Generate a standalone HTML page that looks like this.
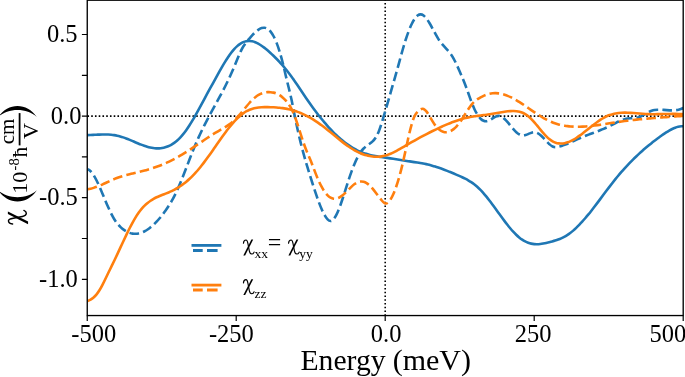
<!DOCTYPE html>
<html>
<head>
<meta charset="utf-8">
<title>chart</title>
<style>
html,body{margin:0;padding:0;background:#fff;}
body{width:685px;height:377px;overflow:hidden;}
svg{display:block;}
text{font-family:"Liberation Serif",serif;fill:#000;}
</style>
</head>
<body>
<svg width="685" height="377" viewBox="0 0 685 377">
<rect x="0" y="0" width="685" height="377" fill="#fff"/>
<defs>
<filter id="soft" x="-5%" y="-5%" width="110%" height="110%" color-interpolation-filters="sRGB"><feGaussianBlur stdDeviation="0.3"/></filter>
<clipPath id="pa"><rect x="87.25" y="0.3" width="595.95" height="315.25"/></clipPath>
</defs>
<g filter="url(#soft)">
<!-- zero lines -->
<g stroke="#000" stroke-width="1.6" stroke-dasharray="1.6 2.15" fill="none">
<line x1="87.45" y1="116.1" x2="683.2" y2="116.1"/>
<line x1="385.2" y1="315.85" x2="385.2" y2="0.3"/>
</g>
<!-- curves -->
<g clip-path="url(#pa)" fill="none" stroke-width="2.6" stroke-linejoin="round">
<path stroke="#1f77b4" stroke-linecap="butt" d="M87.20 135.11C88.20 135.09 89.20 135.05 90.20 135.01C91.20 134.97 92.20 134.93 93.20 134.88C94.20 134.83 95.20 134.77 96.20 134.72C97.20 134.67 98.20 134.63 99.20 134.58C100.20 134.54 101.20 134.51 102.20 134.49C103.20 134.47 104.20 134.46 105.20 134.46C106.20 134.47 107.20 134.49 108.20 134.54C109.20 134.58 110.20 134.65 111.20 134.75C112.20 134.84 113.20 134.96 114.20 135.12C115.20 135.27 116.20 135.45 117.20 135.67C118.20 135.89 119.20 136.15 120.20 136.44C121.20 136.73 122.20 137.05 123.20 137.39C124.20 137.73 125.20 138.09 126.20 138.47C127.20 138.85 128.20 139.25 129.20 139.66C130.20 140.07 131.20 140.49 132.20 140.91C133.20 141.33 134.20 141.76 135.20 142.18C136.20 142.60 137.20 143.02 138.20 143.43C139.20 143.84 140.20 144.24 141.20 144.62C142.20 145.01 143.20 145.37 144.20 145.72C145.20 146.06 146.20 146.39 147.20 146.68C148.20 146.97 149.20 147.23 150.20 147.46C151.20 147.69 152.20 147.88 153.20 148.03C154.20 148.18 155.20 148.28 156.20 148.34C157.20 148.39 158.20 148.40 159.20 148.35C160.20 148.30 161.20 148.20 162.20 148.03C163.20 147.87 164.20 147.64 165.20 147.35C166.20 147.06 167.20 146.70 168.20 146.27C169.20 145.85 170.20 145.35 171.20 144.78C172.20 144.22 173.20 143.57 174.20 142.85C175.20 142.13 176.20 141.34 177.20 140.46C178.20 139.58 179.20 138.62 180.20 137.57C181.20 136.52 182.20 135.39 183.20 134.16C184.20 132.94 185.20 131.62 186.20 130.22C187.20 128.82 188.20 127.33 189.20 125.78C190.20 124.23 191.20 122.61 192.20 120.94C193.20 119.27 194.20 117.55 195.20 115.79C196.20 114.03 197.20 112.22 198.20 110.40C199.20 108.58 200.20 106.73 201.20 104.87C202.20 103.01 203.20 101.14 204.20 99.28C205.20 97.42 206.20 95.56 207.20 93.72C208.20 91.88 209.20 90.05 210.20 88.23C211.20 86.41 212.20 84.59 213.20 82.78C214.20 80.96 215.20 79.15 216.20 77.34C217.20 75.52 218.20 73.72 219.20 71.93C220.20 70.15 221.20 68.39 222.20 66.67C223.20 64.95 224.20 63.27 225.20 61.65C226.20 60.02 227.20 58.46 228.20 56.97C229.20 55.49 230.20 54.08 231.20 52.76C232.20 51.44 233.20 50.22 234.20 49.10C235.20 47.99 236.20 46.99 237.20 46.11C238.20 45.23 239.20 44.46 240.20 43.81C241.20 43.15 242.20 42.61 243.20 42.18C244.20 41.75 245.20 41.43 246.20 41.23C247.20 41.02 248.20 40.92 249.20 40.93C250.20 40.95 251.20 41.07 252.20 41.28C253.20 41.50 254.20 41.81 255.20 42.21C256.20 42.60 257.20 43.08 258.20 43.63C259.20 44.18 260.20 44.80 261.20 45.47C262.20 46.14 263.20 46.88 264.20 47.65C265.20 48.42 266.20 49.24 267.20 50.09C268.20 50.93 269.20 51.81 270.20 52.71C271.20 53.61 272.20 54.54 273.20 55.50C274.20 56.46 275.20 57.45 276.20 58.47C277.20 59.49 278.20 60.54 279.20 61.62C280.20 62.70 281.20 63.81 282.20 64.96C283.20 66.11 284.20 67.29 285.20 68.50C286.20 69.72 287.20 70.97 288.20 72.25C289.20 73.54 290.20 74.86 291.20 76.22C292.20 77.58 293.20 78.97 294.20 80.40C295.20 81.83 296.20 83.29 297.20 84.77C298.20 86.25 299.20 87.75 300.20 89.25C301.20 90.75 302.20 92.26 303.20 93.75C304.20 95.25 305.20 96.74 306.20 98.21C307.20 99.67 308.20 101.12 309.20 102.54C310.20 103.97 311.20 105.37 312.20 106.75C313.20 108.13 314.20 109.49 315.20 110.82C316.20 112.16 317.20 113.47 318.20 114.76C319.20 116.04 320.20 117.30 321.20 118.54C322.20 119.77 323.20 120.98 324.20 122.17C325.20 123.35 326.20 124.51 327.20 125.63C328.20 126.76 329.20 127.86 330.20 128.93C331.20 130.00 332.20 131.04 333.20 132.06C334.20 133.07 335.20 134.05 336.20 135.00C337.20 135.95 338.20 136.87 339.20 137.76C340.20 138.65 341.20 139.50 342.20 140.33C343.20 141.16 344.20 141.95 345.20 142.71C346.20 143.48 347.20 144.21 348.20 144.90C349.20 145.60 350.20 146.27 351.20 146.90C352.20 147.53 353.20 148.13 354.20 148.69C355.20 149.26 356.20 149.79 357.20 150.29C358.20 150.78 359.20 151.25 360.20 151.68C361.20 152.10 362.20 152.50 363.20 152.86C364.20 153.22 365.20 153.55 366.20 153.86C367.20 154.16 368.20 154.44 369.20 154.70C370.20 154.95 371.20 155.19 372.20 155.41C373.20 155.62 374.20 155.82 375.20 156.01C376.20 156.19 377.20 156.37 378.20 156.53C379.20 156.70 380.20 156.85 381.20 157.01C382.20 157.16 383.20 157.31 384.20 157.46C385.20 157.61 386.20 157.76 387.20 157.91C388.20 158.06 389.20 158.21 390.20 158.37C391.20 158.52 392.20 158.67 393.20 158.83C394.20 158.99 395.20 159.14 396.20 159.30C397.20 159.46 398.20 159.61 399.20 159.77C400.20 159.93 401.20 160.09 402.20 160.24C403.20 160.40 404.20 160.56 405.20 160.71C406.20 160.87 407.20 161.02 408.20 161.18C409.20 161.33 410.20 161.49 411.20 161.64C412.20 161.79 413.20 161.94 414.20 162.09C415.20 162.24 416.20 162.39 417.20 162.54C418.20 162.69 419.20 162.84 420.20 163.01C421.20 163.17 422.20 163.34 423.20 163.53C424.20 163.71 425.20 163.92 426.20 164.14C427.20 164.36 428.20 164.59 429.20 164.85C430.20 165.10 431.20 165.37 432.20 165.66C433.20 165.94 434.20 166.24 435.20 166.55C436.20 166.86 437.20 167.19 438.20 167.52C439.20 167.86 440.20 168.21 441.20 168.57C442.20 168.93 443.20 169.30 444.20 169.68C445.20 170.06 446.20 170.45 447.20 170.85C448.20 171.25 449.20 171.65 450.20 172.07C451.20 172.48 452.20 172.90 453.20 173.32C454.20 173.75 455.20 174.18 456.20 174.61C457.20 175.05 458.20 175.49 459.20 175.93C460.20 176.37 461.20 176.81 462.20 177.27C463.20 177.72 464.20 178.19 465.20 178.69C466.20 179.19 467.20 179.71 468.20 180.28C469.20 180.85 470.20 181.46 471.20 182.13C472.20 182.80 473.20 183.53 474.20 184.31C475.20 185.10 476.20 185.94 477.20 186.84C478.20 187.74 479.20 188.69 480.20 189.70C481.20 190.71 482.20 191.78 483.20 192.90C484.20 194.02 485.20 195.20 486.20 196.42C487.20 197.63 488.20 198.90 489.20 200.19C490.20 201.48 491.20 202.81 492.20 204.16C493.20 205.50 494.20 206.87 495.20 208.25C496.20 209.63 497.20 211.01 498.20 212.40C499.20 213.78 500.20 215.17 501.20 216.54C502.20 217.91 503.20 219.27 504.20 220.60C505.20 221.94 506.20 223.25 507.20 224.53C508.20 225.80 509.20 227.04 510.20 228.24C511.20 229.44 512.20 230.58 513.20 231.68C514.20 232.77 515.20 233.80 516.20 234.77C517.20 235.74 518.20 236.63 519.20 237.45C520.20 238.27 521.20 239.01 522.20 239.67C523.20 240.33 524.20 240.91 525.20 241.42C526.20 241.93 527.20 242.36 528.20 242.73C529.20 243.09 530.20 243.39 531.20 243.61C532.20 243.84 533.20 244.00 534.20 244.10C535.20 244.20 536.20 244.24 537.20 244.22C538.20 244.20 539.20 244.12 540.20 244.00C541.20 243.89 542.20 243.73 543.20 243.54C544.20 243.35 545.20 243.14 546.20 242.91C547.20 242.68 548.20 242.44 549.20 242.20C550.20 241.95 551.20 241.70 552.20 241.43C553.20 241.15 554.20 240.87 555.20 240.56C556.20 240.24 557.20 239.91 558.20 239.54C559.20 239.17 560.20 238.77 561.20 238.32C562.20 237.88 563.20 237.40 564.20 236.87C565.20 236.34 566.20 235.75 567.20 235.12C568.20 234.48 569.20 233.78 570.20 233.03C571.20 232.28 572.20 231.47 573.20 230.62C574.20 229.76 575.20 228.86 576.20 227.91C577.20 226.96 578.20 225.96 579.20 224.93C580.20 223.89 581.20 222.82 582.20 221.71C583.20 220.60 584.20 219.45 585.20 218.28C586.20 217.11 587.20 215.91 588.20 214.68C589.20 213.45 590.20 212.20 591.20 210.93C592.20 209.66 593.20 208.37 594.20 207.07C595.20 205.76 596.20 204.45 597.20 203.12C598.20 201.79 599.20 200.46 600.20 199.12C601.20 197.78 602.20 196.44 603.20 195.09C604.20 193.75 605.20 192.41 606.20 191.08C607.20 189.74 608.20 188.42 609.20 187.10C610.20 185.78 611.20 184.48 612.20 183.19C613.20 181.91 614.20 180.64 615.20 179.39C616.20 178.14 617.20 176.91 618.20 175.71C619.20 174.51 620.20 173.33 621.20 172.18C622.20 171.02 623.20 169.89 624.20 168.78C625.20 167.67 626.20 166.59 627.20 165.52C628.20 164.45 629.20 163.41 630.20 162.38C631.20 161.36 632.20 160.35 633.20 159.36C634.20 158.37 635.20 157.41 636.20 156.46C637.20 155.50 638.20 154.57 639.20 153.66C640.20 152.74 641.20 151.84 642.20 150.96C643.20 150.07 644.20 149.20 645.20 148.35C646.20 147.50 647.20 146.66 648.20 145.83C649.20 145.01 650.20 144.20 651.20 143.40C652.20 142.60 653.20 141.81 654.20 141.04C655.20 140.26 656.20 139.50 657.20 138.75C658.20 138.00 659.20 137.25 660.20 136.52C661.20 135.79 662.20 135.08 663.20 134.38C664.20 133.69 665.20 133.02 666.20 132.38C667.20 131.74 668.20 131.14 669.20 130.57C670.20 130.01 671.20 129.48 672.20 129.01C673.20 128.54 674.20 128.11 675.20 127.75C676.20 127.38 677.20 127.07 678.20 126.84C679.20 126.60 680.20 126.43 681.20 126.33C681.90 126.27 682.60 126.24 683.30 126.25"/>
<path stroke="#1f77b4" stroke-dasharray="9.6 4.2" stroke-dashoffset="4.7" d="M87.60 169.30C88.60 169.57 89.60 170.24 90.60 171.23C91.60 172.22 92.60 173.54 93.60 175.11C94.60 176.67 95.60 178.49 96.60 180.48C97.60 182.47 98.60 184.64 99.60 186.90C100.60 189.17 101.60 191.54 102.60 193.94C103.60 196.34 104.60 198.76 105.60 201.14C106.60 203.52 107.60 205.85 108.60 208.08C109.60 210.31 110.60 212.43 111.60 214.40C112.60 216.36 113.60 218.17 114.60 219.75C115.60 221.34 116.60 222.71 117.60 223.92C118.60 225.14 119.60 226.19 120.60 227.13C121.60 228.08 122.60 228.92 123.60 229.66C124.60 230.39 125.60 231.03 126.60 231.56C127.60 232.09 128.60 232.53 129.60 232.86C130.60 233.20 131.60 233.44 132.60 233.59C133.60 233.75 134.60 233.80 135.60 233.78C136.60 233.75 137.60 233.63 138.60 233.43C139.60 233.23 140.60 232.95 141.60 232.58C142.60 232.22 143.60 231.78 144.60 231.26C145.60 230.74 146.60 230.14 147.60 229.47C148.60 228.81 149.60 228.07 150.60 227.26C151.60 226.45 152.60 225.58 153.60 224.64C154.60 223.70 155.60 222.69 156.60 221.63C157.60 220.56 158.60 219.44 159.60 218.26C160.60 217.08 161.60 215.84 162.60 214.55C163.60 213.26 164.60 211.92 165.60 210.51C166.60 209.10 167.60 207.62 168.60 206.06C169.60 204.50 170.60 202.86 171.60 201.11C172.60 199.36 173.60 197.51 174.60 195.54C175.60 193.57 176.60 191.48 177.60 189.27C178.60 187.05 179.60 184.71 180.60 182.30C181.60 179.88 182.60 177.38 183.60 174.83C184.60 172.28 185.60 169.68 186.60 167.08C187.60 164.47 188.60 161.85 189.60 159.25C190.60 156.65 191.60 154.08 192.60 151.56C193.60 149.04 194.60 146.58 195.60 144.22C196.60 141.85 197.60 139.57 198.60 137.36C199.60 135.15 200.60 133.02 201.60 130.94C202.60 128.86 203.60 126.84 204.60 124.87C205.60 122.89 206.60 120.96 207.60 119.07C208.60 117.17 209.60 115.30 210.60 113.46C211.60 111.61 212.60 109.78 213.60 107.96C214.60 106.13 215.60 104.32 216.60 102.49C217.60 100.66 218.60 98.83 219.60 96.97C220.60 95.12 221.60 93.24 222.60 91.32C223.60 89.41 224.60 87.46 225.60 85.47C226.60 83.47 227.60 81.42 228.60 79.32C229.60 77.21 230.60 75.04 231.60 72.80C232.60 70.56 233.60 68.25 234.60 65.85C235.60 63.45 236.60 60.95 237.60 58.52C238.60 56.09 239.60 53.72 240.60 51.60C241.60 49.47 242.60 47.63 243.60 46.04C244.60 44.45 245.60 43.09 246.60 41.83C247.60 40.58 248.60 39.44 249.60 38.29C250.60 37.15 251.60 36.02 252.60 34.95C253.60 33.88 254.60 32.87 255.60 31.96C256.60 31.05 257.60 30.24 258.60 29.58C259.60 28.92 260.60 28.41 261.60 28.09C262.60 27.77 263.60 27.64 264.60 27.75C265.60 27.86 266.60 28.20 267.60 28.83C268.60 29.45 269.60 30.36 270.60 31.59C271.60 32.82 272.60 34.37 273.60 36.25C274.60 38.13 275.60 40.34 276.60 42.89C277.60 45.44 278.60 48.32 279.60 51.56C280.60 54.79 281.60 58.37 282.60 62.30C283.60 66.23 284.60 70.62 285.60 74.94C286.60 79.27 287.60 83.30 288.60 87.26C289.60 91.22 290.60 95.28 291.60 100.08C292.60 104.88 293.60 110.26 294.60 115.31C295.60 120.35 296.60 125.09 297.60 129.58C298.60 134.07 299.60 138.30 300.60 142.33C301.60 146.36 302.60 150.18 303.60 153.84C304.60 157.50 305.60 161.00 306.60 164.39C307.60 167.78 308.60 171.05 309.60 174.26C310.60 177.47 311.60 180.62 312.60 183.75C313.60 186.87 314.60 189.96 315.60 192.94C316.60 195.93 317.60 198.81 318.60 201.52C319.60 204.23 320.60 206.77 321.60 209.07C322.60 211.37 323.60 213.43 324.60 215.19C325.60 216.94 326.60 218.41 327.60 219.43C328.60 220.46 329.60 221.04 330.60 221.01C331.60 220.99 332.60 220.35 333.60 219.20C334.60 218.06 335.60 216.41 336.60 214.40C337.60 212.38 338.60 209.98 339.60 207.33C340.60 204.69 341.60 201.79 342.60 198.76C343.60 195.73 344.60 192.57 345.60 189.41C346.60 186.25 347.60 183.09 348.60 180.04C349.60 176.99 350.60 174.08 351.60 171.35C352.60 168.61 353.60 166.06 354.60 163.70C355.60 161.34 356.60 159.19 357.60 157.26C358.60 155.33 359.60 153.63 360.60 152.19C361.60 150.74 362.60 149.54 363.60 148.52C364.60 147.49 365.60 146.63 366.60 145.87C367.60 145.11 368.60 144.46 369.60 143.76C370.60 143.07 371.60 142.33 372.60 141.37C373.60 140.42 374.60 139.26 375.60 137.72C376.60 136.19 377.60 134.30 378.60 131.91C379.60 129.51 380.60 126.54 381.60 123.32C382.60 120.10 383.60 116.68 384.60 113.34C385.60 110.01 386.60 106.68 387.60 103.22C388.60 99.76 389.60 96.18 390.60 92.68C391.60 89.17 392.60 85.70 393.60 82.21C394.60 78.72 395.60 75.22 396.60 71.66C397.60 68.11 398.60 64.48 399.60 60.83C400.60 57.17 401.60 53.51 402.60 49.99C403.60 46.48 404.60 43.13 405.60 40.01C406.60 36.89 407.60 34.00 408.60 31.37C409.60 28.73 410.60 26.36 411.60 24.28C412.60 22.20 413.60 20.41 414.60 18.95C415.60 17.49 416.60 16.36 417.60 15.59C418.60 14.83 419.60 14.42 420.60 14.41C421.60 14.41 422.60 14.82 423.60 15.56C424.60 16.31 425.60 17.39 426.60 18.70C427.60 20.01 428.60 21.56 429.60 23.25C430.60 24.93 431.60 26.75 432.60 28.61C433.60 30.48 434.60 32.38 435.60 34.20C436.60 36.03 437.60 37.78 438.60 39.34C439.60 40.90 440.60 42.26 441.60 43.49C442.60 44.72 443.60 45.82 444.60 46.91C445.60 47.99 446.60 49.05 447.60 50.18C448.60 51.30 449.60 52.50 450.60 53.87C451.60 55.23 452.60 56.77 453.60 58.56C454.60 60.35 455.60 62.38 456.60 64.53C457.60 66.69 458.60 68.95 459.60 71.23C460.60 73.52 461.60 75.85 462.60 78.25C463.60 80.66 464.60 83.15 465.60 85.75C466.60 88.36 467.60 91.10 468.60 93.95C469.60 96.79 470.60 99.68 471.60 102.32C472.60 104.97 473.60 107.35 474.60 109.45C475.60 111.55 476.60 113.37 477.60 114.91C478.60 116.45 479.60 117.72 480.60 118.70C481.60 119.68 482.60 120.38 483.60 120.80C484.60 121.22 485.60 121.36 486.60 121.22C487.60 121.08 488.60 120.67 489.60 120.13C490.60 119.60 491.60 118.94 492.60 118.30C493.60 117.66 494.60 117.04 495.60 116.58C496.60 116.12 497.60 115.82 498.60 115.83C499.60 115.84 500.60 116.16 501.60 116.72C502.60 117.28 503.60 118.07 504.60 119.02C505.60 119.96 506.60 121.05 507.60 122.20C508.60 123.36 509.60 124.58 510.60 125.80C511.60 127.02 512.60 128.23 513.60 129.36C514.60 130.48 515.60 131.53 516.60 132.42C517.60 133.30 518.60 134.03 519.60 134.53C520.60 135.03 521.60 135.30 522.60 135.37C523.60 135.43 524.60 135.27 525.60 134.97C526.60 134.68 527.60 134.25 528.60 133.82C529.60 133.40 530.60 132.96 531.60 132.65C532.60 132.33 533.60 132.13 534.60 132.17C535.60 132.21 536.60 132.52 537.60 133.05C538.60 133.57 539.60 134.31 540.60 135.19C541.60 136.07 542.60 137.09 543.60 138.16C544.60 139.24 545.60 140.35 546.60 141.42C547.60 142.49 548.60 143.52 549.60 144.39C550.60 145.27 551.60 146.00 552.60 146.49C553.60 146.98 554.60 147.20 555.60 147.17C556.60 147.15 557.60 146.93 558.60 146.70C559.60 146.47 560.60 146.20 561.60 145.89C562.60 145.58 563.60 145.24 564.60 144.87C565.60 144.50 566.60 144.11 567.60 143.69C568.60 143.28 569.60 142.84 570.60 142.40C571.60 141.95 572.60 141.49 573.60 141.03C574.60 140.57 575.60 140.11 576.60 139.65C577.60 139.19 578.60 138.74 579.60 138.30C580.60 137.86 581.60 137.43 582.60 137.01C583.60 136.60 584.60 136.20 585.60 135.80C586.60 135.41 587.60 135.02 588.60 134.64C589.60 134.26 590.60 133.89 591.60 133.51C592.60 133.14 593.60 132.76 594.60 132.39C595.60 132.01 596.60 131.63 597.60 131.25C598.60 130.87 599.60 130.47 600.60 130.08C601.60 129.68 602.60 129.27 603.60 128.84C604.60 128.42 605.60 127.98 606.60 127.53C607.60 127.08 608.60 126.61 609.60 126.12C610.60 125.63 611.60 125.11 612.60 124.59C613.60 124.08 614.60 123.55 615.60 123.04C616.60 122.53 617.60 122.02 618.60 121.55C619.60 121.08 620.60 120.63 621.60 120.23C622.60 119.83 623.60 119.48 624.60 119.19C625.60 118.90 626.60 118.67 627.60 118.52C628.60 118.37 629.60 118.30 630.60 118.25C631.60 118.20 632.60 118.18 633.60 118.12C634.60 118.06 635.60 117.97 636.60 117.80C637.60 117.62 638.60 117.36 639.60 116.97C640.60 116.58 641.60 116.10 642.60 115.56C643.60 115.03 644.60 114.44 645.60 113.86C646.60 113.28 647.60 112.70 648.60 112.17C649.60 111.65 650.60 111.17 651.60 110.81C652.60 110.44 653.60 110.18 654.60 110.01C655.60 109.83 656.60 109.74 657.60 109.70C658.60 109.65 659.60 109.67 660.60 109.71C661.60 109.75 662.60 109.81 663.60 109.89C664.60 109.97 665.60 110.05 666.60 110.13C667.60 110.21 668.60 110.28 669.60 110.33C670.60 110.38 671.60 110.41 672.60 110.40C673.60 110.39 674.60 110.33 675.60 110.23C676.60 110.12 677.60 109.95 678.60 109.72C679.60 109.48 680.60 109.17 681.60 108.77C682.17 108.54 682.73 108.29 683.30 108.00"/>
<path stroke="#ff7f0e" d="M87.60 300.97C88.60 300.68 89.60 300.26 90.60 299.68C91.60 299.11 92.60 298.39 93.60 297.50C94.60 296.61 95.60 295.56 96.60 294.32C97.60 293.08 98.60 291.66 99.60 290.04C100.60 288.42 101.60 286.59 102.60 284.62C103.60 282.65 104.60 280.57 105.60 278.47C106.60 276.38 107.60 274.30 108.60 272.26C109.60 270.23 110.60 268.22 111.60 266.19C112.60 264.17 113.60 262.12 114.60 260.03C115.60 257.94 116.60 255.80 117.60 253.65C118.60 251.50 119.60 249.33 120.60 247.16C121.60 245.00 122.60 242.83 123.60 240.68C124.60 238.54 125.60 236.42 126.60 234.34C127.60 232.26 128.60 230.22 129.60 228.25C130.60 226.28 131.60 224.37 132.60 222.54C133.60 220.72 134.60 218.98 135.60 217.34C136.60 215.71 137.60 214.18 138.60 212.77C139.60 211.36 140.60 210.07 141.60 208.89C142.60 207.71 143.60 206.63 144.60 205.64C145.60 204.65 146.60 203.76 147.60 202.94C148.60 202.12 149.60 201.38 150.60 200.70C151.60 200.02 152.60 199.41 153.60 198.84C154.60 198.28 155.60 197.77 156.60 197.29C157.60 196.81 158.60 196.37 159.60 195.95C160.60 195.53 161.60 195.14 162.60 194.75C163.60 194.36 164.60 193.99 165.60 193.60C166.60 193.22 167.60 192.83 168.60 192.43C169.60 192.02 170.60 191.60 171.60 191.14C172.60 190.69 173.60 190.20 174.60 189.67C175.60 189.14 176.60 188.57 177.60 187.96C178.60 187.35 179.60 186.70 180.60 186.02C181.60 185.33 182.60 184.60 183.60 183.83C184.60 183.07 185.60 182.26 186.60 181.41C187.60 180.56 188.60 179.67 189.60 178.74C190.60 177.81 191.60 176.84 192.60 175.82C193.60 174.81 194.60 173.75 195.60 172.66C196.60 171.56 197.60 170.42 198.60 169.23C199.60 168.05 200.60 166.82 201.60 165.55C202.60 164.29 203.60 162.99 204.60 161.65C205.60 160.32 206.60 158.96 207.60 157.58C208.60 156.20 209.60 154.79 210.60 153.38C211.60 151.96 212.60 150.53 213.60 149.10C214.60 147.67 215.60 146.23 216.60 144.80C217.60 143.37 218.60 141.94 219.60 140.52C220.60 139.10 221.60 137.70 222.60 136.32C223.60 134.93 224.60 133.57 225.60 132.23C226.60 130.90 227.60 129.59 228.60 128.32C229.60 127.05 230.60 125.82 231.60 124.63C232.60 123.44 233.60 122.30 234.60 121.21C235.60 120.12 236.60 119.09 237.60 118.11C238.60 117.14 239.60 116.22 240.60 115.38C241.60 114.54 242.60 113.77 243.60 113.07C244.60 112.38 245.60 111.76 246.60 111.21C247.60 110.67 248.60 110.19 249.60 109.78C250.60 109.37 251.60 109.02 252.60 108.72C253.60 108.42 254.60 108.17 255.60 107.97C256.60 107.77 257.60 107.61 258.60 107.49C259.60 107.37 260.60 107.28 261.60 107.22C262.60 107.16 263.60 107.13 264.60 107.12C265.60 107.10 266.60 107.10 267.60 107.12C268.60 107.13 269.60 107.15 270.60 107.18C271.60 107.21 272.60 107.25 273.60 107.30C274.60 107.35 275.60 107.41 276.60 107.49C277.60 107.57 278.60 107.66 279.60 107.77C280.60 107.87 281.60 108.00 282.60 108.14C283.60 108.28 284.60 108.44 285.60 108.62C286.60 108.80 287.60 109.00 288.60 109.22C289.60 109.44 290.60 109.68 291.60 109.95C292.60 110.22 293.60 110.51 294.60 110.83C295.60 111.15 296.60 111.49 297.60 111.86C298.60 112.23 299.60 112.62 300.60 113.04C301.60 113.46 302.60 113.91 303.60 114.38C304.60 114.85 305.60 115.34 306.60 115.86C307.60 116.37 308.60 116.91 309.60 117.48C310.60 118.04 311.60 118.63 312.60 119.23C313.60 119.84 314.60 120.47 315.60 121.12C316.60 121.78 317.60 122.45 318.60 123.14C319.60 123.84 320.60 124.55 321.60 125.29C322.60 126.02 323.60 126.78 324.60 127.55C325.60 128.33 326.60 129.12 327.60 129.92C328.60 130.72 329.60 131.54 330.60 132.36C331.60 133.18 332.60 134.00 333.60 134.83C334.60 135.65 335.60 136.48 336.60 137.30C337.60 138.12 338.60 138.93 339.60 139.74C340.60 140.54 341.60 141.33 342.60 142.11C343.60 142.88 344.60 143.64 345.60 144.38C346.60 145.11 347.60 145.83 348.60 146.51C349.60 147.20 350.60 147.85 351.60 148.48C352.60 149.10 353.60 149.70 354.60 150.26C355.60 150.82 356.60 151.35 357.60 151.85C358.60 152.34 359.60 152.80 360.60 153.23C361.60 153.66 362.60 154.05 363.60 154.40C364.60 154.75 365.60 155.06 366.60 155.34C367.60 155.62 368.60 155.85 369.60 156.05C370.60 156.25 371.60 156.40 372.60 156.52C373.60 156.63 374.60 156.70 375.60 156.73C376.60 156.76 377.60 156.74 378.60 156.68C379.60 156.62 380.60 156.51 381.60 156.36C382.60 156.20 383.60 156.00 384.60 155.75C385.60 155.50 386.60 155.20 387.60 154.86C388.60 154.52 389.60 154.14 390.60 153.72C391.60 153.30 392.60 152.84 393.60 152.36C394.60 151.88 395.60 151.37 396.60 150.84C397.60 150.31 398.60 149.76 399.60 149.19C400.60 148.63 401.60 148.05 402.60 147.47C403.60 146.88 404.60 146.29 405.60 145.70C406.60 145.12 407.60 144.53 408.60 143.95C409.60 143.37 410.60 142.79 411.60 142.22C412.60 141.65 413.60 141.09 414.60 140.53C415.60 139.97 416.60 139.41 417.60 138.86C418.60 138.31 419.60 137.77 420.60 137.23C421.60 136.69 422.60 136.16 423.60 135.63C424.60 135.10 425.60 134.58 426.60 134.06C427.60 133.54 428.60 133.03 429.60 132.53C430.60 132.02 431.60 131.52 432.60 131.03C433.60 130.54 434.60 130.05 435.60 129.57C436.60 129.09 437.60 128.62 438.60 128.15C439.60 127.68 440.60 127.22 441.60 126.77C442.60 126.31 443.60 125.87 444.60 125.43C445.60 125.00 446.60 124.57 447.60 124.15C448.60 123.74 449.60 123.33 450.60 122.94C451.60 122.54 452.60 122.16 453.60 121.79C454.60 121.42 455.60 121.06 456.60 120.72C457.60 120.38 458.60 120.05 459.60 119.74C460.60 119.43 461.60 119.13 462.60 118.85C463.60 118.57 464.60 118.30 465.60 118.06C466.60 117.81 467.60 117.58 468.60 117.38C469.60 117.17 470.60 116.98 471.60 116.80C472.60 116.63 473.60 116.47 474.60 116.32C475.60 116.17 476.60 116.04 477.60 115.90C478.60 115.77 479.60 115.64 480.60 115.52C481.60 115.39 482.60 115.27 483.60 115.14C484.60 115.02 485.60 114.89 486.60 114.75C487.60 114.61 488.60 114.46 489.60 114.31C490.60 114.15 491.60 113.98 492.60 113.80C493.60 113.62 494.60 113.43 495.60 113.25C496.60 113.06 497.60 112.87 498.60 112.69C499.60 112.50 500.60 112.32 501.60 112.16C502.60 111.99 503.60 111.83 504.60 111.69C505.60 111.55 506.60 111.43 507.60 111.33C508.60 111.23 509.60 111.15 510.60 111.11C511.60 111.06 512.60 111.04 513.60 111.06C514.60 111.08 515.60 111.15 516.60 111.27C517.60 111.39 518.60 111.57 519.60 111.82C520.60 112.07 521.60 112.39 522.60 112.81C523.60 113.22 524.60 113.73 525.60 114.34C526.60 114.95 527.60 115.67 528.60 116.51C529.60 117.35 530.60 118.30 531.60 119.32C532.60 120.35 533.60 121.46 534.60 122.62C535.60 123.77 536.60 124.97 537.60 126.19C538.60 127.40 539.60 128.63 540.60 129.84C541.60 131.05 542.60 132.24 543.60 133.37C544.60 134.51 545.60 135.59 546.60 136.59C547.60 137.59 548.60 138.50 549.60 139.30C550.60 140.09 551.60 140.76 552.60 141.32C553.60 141.88 554.60 142.32 555.60 142.66C556.60 143.00 557.60 143.24 558.60 143.38C559.60 143.52 560.60 143.57 561.60 143.53C562.60 143.49 563.60 143.37 564.60 143.17C565.60 142.97 566.60 142.69 567.60 142.35C568.60 142.01 569.60 141.60 570.60 141.14C571.60 140.67 572.60 140.15 573.60 139.58C574.60 139.01 575.60 138.40 576.60 137.74C577.60 137.09 578.60 136.40 579.60 135.67C580.60 134.95 581.60 134.20 582.60 133.44C583.60 132.67 584.60 131.88 585.60 131.08C586.60 130.29 587.60 129.48 588.60 128.68C589.60 127.87 590.60 127.07 591.60 126.27C592.60 125.48 593.60 124.69 594.60 123.93C595.60 123.16 596.60 122.42 597.60 121.70C598.60 120.99 599.60 120.30 600.60 119.65C601.60 119.00 602.60 118.39 603.60 117.83C604.60 117.27 605.60 116.76 606.60 116.30C607.60 115.85 608.60 115.44 609.60 115.08C610.60 114.73 611.60 114.42 612.60 114.15C613.60 113.89 614.60 113.66 615.60 113.47C616.60 113.29 617.60 113.14 618.60 113.02C619.60 112.90 620.60 112.82 621.60 112.76C622.60 112.70 623.60 112.67 624.60 112.67C625.60 112.66 626.60 112.67 627.60 112.70C628.60 112.73 629.60 112.78 630.60 112.84C631.60 112.90 632.60 112.97 633.60 113.05C634.60 113.13 635.60 113.21 636.60 113.30C637.60 113.39 638.60 113.48 639.60 113.56C640.60 113.65 641.60 113.73 642.60 113.81C643.60 113.88 644.60 113.95 645.60 114.00C646.60 114.05 647.60 114.09 648.60 114.12C649.60 114.15 650.60 114.17 651.60 114.18C652.60 114.20 653.60 114.20 654.60 114.20C655.60 114.19 656.60 114.18 657.60 114.17C658.60 114.16 659.60 114.14 660.60 114.12C661.60 114.10 662.60 114.08 663.60 114.06C664.60 114.03 665.60 114.01 666.60 113.99C667.60 113.97 668.60 113.95 669.60 113.94C670.60 113.92 671.60 113.91 672.60 113.90C673.60 113.90 674.60 113.90 675.60 113.91C676.60 113.92 677.60 113.93 678.60 113.96C679.60 113.98 680.60 114.02 681.60 114.07C682.17 114.09 682.73 114.13 683.30 114.16"/>
<path stroke="#ff7f0e" stroke-dasharray="9.6 4.2" d="M87.60 189.30C88.60 189.15 89.60 188.94 90.60 188.70C91.60 188.46 92.60 188.18 93.60 187.87C94.60 187.55 95.60 187.20 96.60 186.83C97.60 186.46 98.60 186.06 99.60 185.64C100.60 185.22 101.60 184.79 102.60 184.34C103.60 183.90 104.60 183.44 105.60 182.98C106.60 182.52 107.60 182.05 108.60 181.59C109.60 181.13 110.60 180.67 111.60 180.22C112.60 179.78 113.60 179.34 114.60 178.92C115.60 178.50 116.60 178.10 117.60 177.73C118.60 177.35 119.60 177.01 120.60 176.68C121.60 176.36 122.60 176.05 123.60 175.76C124.60 175.48 125.60 175.20 126.60 174.94C127.60 174.68 128.60 174.44 129.60 174.19C130.60 173.95 131.60 173.71 132.60 173.47C133.60 173.23 134.60 173.00 135.60 172.75C136.60 172.51 137.60 172.27 138.60 172.02C139.60 171.77 140.60 171.52 141.60 171.27C142.60 171.01 143.60 170.75 144.60 170.48C145.60 170.21 146.60 169.93 147.60 169.64C148.60 169.36 149.60 169.06 150.60 168.76C151.60 168.45 152.60 168.14 153.60 167.81C154.60 167.48 155.60 167.14 156.60 166.79C157.60 166.44 158.60 166.07 159.60 165.69C160.60 165.31 161.60 164.92 162.60 164.51C163.60 164.09 164.60 163.66 165.60 163.22C166.60 162.77 167.60 162.31 168.60 161.83C169.60 161.35 170.60 160.86 171.60 160.35C172.60 159.84 173.60 159.32 174.60 158.78C175.60 158.24 176.60 157.69 177.60 157.13C178.60 156.57 179.60 155.99 180.60 155.40C181.60 154.82 182.60 154.22 183.60 153.61C184.60 153.00 185.60 152.38 186.60 151.76C187.60 151.13 188.60 150.49 189.60 149.85C190.60 149.20 191.60 148.55 192.60 147.89C193.60 147.23 194.60 146.56 195.60 145.89C196.60 145.22 197.60 144.54 198.60 143.86C199.60 143.18 200.60 142.50 201.60 141.82C202.60 141.14 203.60 140.46 204.60 139.79C205.60 139.11 206.60 138.44 207.60 137.78C208.60 137.11 209.60 136.46 210.60 135.81C211.60 135.17 212.60 134.53 213.60 133.91C214.60 133.29 215.60 132.68 216.60 132.09C217.60 131.50 218.60 130.93 219.60 130.37C220.60 129.81 221.60 129.24 222.60 128.67C223.60 128.10 224.60 127.51 225.60 126.89C226.60 126.28 227.60 125.63 228.60 124.93C229.60 124.24 230.60 123.50 231.60 122.69C232.60 121.88 233.60 121.01 234.60 120.05C235.60 119.10 236.60 118.06 237.60 116.96C238.60 115.86 239.60 114.70 240.60 113.51C241.60 112.32 242.60 111.10 243.60 109.87C244.60 108.65 245.60 107.43 246.60 106.23C247.60 105.03 248.60 103.86 249.60 102.75C250.60 101.63 251.60 100.58 252.60 99.60C253.60 98.63 254.60 97.74 255.60 96.96C256.60 96.19 257.60 95.51 258.60 94.94C259.60 94.36 260.60 93.88 261.60 93.49C262.60 93.10 263.60 92.79 264.60 92.57C265.60 92.35 266.60 92.22 267.60 92.15C268.60 92.09 269.60 92.10 270.60 92.18C271.60 92.26 272.60 92.41 273.60 92.64C274.60 92.88 275.60 93.20 276.60 93.61C277.60 94.03 278.60 94.54 279.60 95.17C280.60 95.79 281.60 96.53 282.60 97.39C283.60 98.26 284.60 99.25 285.60 100.37C286.60 101.50 287.60 102.77 288.60 104.19C289.60 105.62 290.60 107.23 291.60 109.14C292.60 111.06 293.60 113.31 294.60 115.93C295.60 118.54 296.60 121.46 297.60 124.51C298.60 127.56 299.60 130.72 300.60 133.85C301.60 136.97 302.60 140.06 303.60 142.96C304.60 145.87 305.60 148.56 306.60 151.02C307.60 153.48 308.60 155.77 309.60 158.11C310.60 160.46 311.60 162.94 312.60 165.54C313.60 168.14 314.60 170.82 315.60 173.39C316.60 175.95 317.60 178.38 318.60 180.60C319.60 182.83 320.60 184.88 321.60 186.73C322.60 188.58 323.60 190.23 324.60 191.67C325.60 193.11 326.60 194.35 327.60 195.36C328.60 196.37 329.60 197.15 330.60 197.70C331.60 198.25 332.60 198.58 333.60 198.71C334.60 198.84 335.60 198.78 336.60 198.54C337.60 198.30 338.60 197.90 339.60 197.35C340.60 196.80 341.60 196.11 342.60 195.31C343.60 194.50 344.60 193.58 345.60 192.61C346.60 191.63 347.60 190.60 348.60 189.58C349.60 188.55 350.60 187.54 351.60 186.60C352.60 185.66 353.60 184.79 354.60 184.05C355.60 183.32 356.60 182.73 357.60 182.31C358.60 181.90 359.60 181.65 360.60 181.57C361.60 181.49 362.60 181.58 363.60 181.83C364.60 182.09 365.60 182.52 366.60 183.12C367.60 183.71 368.60 184.48 369.60 185.42C370.60 186.35 371.60 187.46 372.60 188.66C373.60 189.86 374.60 191.15 375.60 192.48C376.60 193.80 377.60 195.16 378.60 196.47C379.60 197.78 380.60 199.05 381.60 200.22C382.60 201.38 383.60 202.47 384.60 203.06C385.60 203.65 386.60 203.66 387.60 203.00C388.60 202.33 389.60 201.07 390.60 199.42C391.60 197.76 392.60 195.75 393.60 193.42C394.60 191.10 395.60 188.45 396.60 185.49C397.60 182.52 398.60 179.23 399.60 175.63C400.60 172.04 401.60 168.11 402.60 163.85C403.60 159.59 404.60 155.02 405.60 150.37C406.60 145.73 407.60 141.03 408.60 136.62C409.60 132.21 410.60 128.09 411.60 124.56C412.60 121.02 413.60 118.08 414.60 116.01C415.60 113.94 416.60 112.68 417.60 111.70C418.60 110.72 419.60 109.89 420.60 109.33C421.60 108.77 422.60 108.55 423.60 108.96C424.60 109.38 425.60 110.34 426.60 111.64C427.60 112.93 428.60 114.54 429.60 116.25C430.60 117.96 431.60 119.76 432.60 121.43C433.60 123.09 434.60 124.58 435.60 125.86C436.60 127.14 437.60 128.21 438.60 129.10C439.60 129.98 440.60 130.68 441.60 131.19C442.60 131.70 443.60 132.03 444.60 132.19C445.60 132.34 446.60 132.32 447.60 132.14C448.60 131.96 449.60 131.61 450.60 131.11C451.60 130.60 452.60 129.94 453.60 129.14C454.60 128.33 455.60 127.38 456.60 126.29C457.60 125.20 458.60 123.97 459.60 122.61C460.60 121.25 461.60 119.76 462.60 118.20C463.60 116.65 464.60 115.03 465.60 113.43C466.60 111.83 467.60 110.24 468.60 108.74C469.60 107.24 470.60 105.82 471.60 104.57C472.60 103.32 473.60 102.25 474.60 101.37C475.60 100.48 476.60 99.75 477.60 99.11C478.60 98.47 479.60 97.90 480.60 97.36C481.60 96.82 482.60 96.31 483.60 95.85C484.60 95.39 485.60 94.97 486.60 94.62C487.60 94.27 488.60 93.97 489.60 93.75C490.60 93.53 491.60 93.37 492.60 93.27C493.60 93.18 494.60 93.14 495.60 93.16C496.60 93.19 497.60 93.27 498.60 93.40C499.60 93.53 500.60 93.71 501.60 93.94C502.60 94.18 503.60 94.45 504.60 94.78C505.60 95.10 506.60 95.46 507.60 95.86C508.60 96.27 509.60 96.71 510.60 97.18C511.60 97.65 512.60 98.16 513.60 98.70C514.60 99.23 515.60 99.80 516.60 100.39C517.60 100.98 518.60 101.59 519.60 102.22C520.60 102.85 521.60 103.50 522.60 104.16C523.60 104.82 524.60 105.50 525.60 106.18C526.60 106.86 527.60 107.55 528.60 108.24C529.60 108.93 530.60 109.62 531.60 110.31C532.60 111.00 533.60 111.68 534.60 112.35C535.60 113.03 536.60 113.69 537.60 114.34C538.60 114.99 539.60 115.63 540.60 116.24C541.60 116.86 542.60 117.46 543.60 118.03C544.60 118.61 545.60 119.16 546.60 119.69C547.60 120.21 548.60 120.70 549.60 121.17C550.60 121.63 551.60 122.06 552.60 122.45C553.60 122.85 554.60 123.21 555.60 123.54C556.60 123.87 557.60 124.16 558.60 124.43C559.60 124.70 560.60 124.94 561.60 125.15C562.60 125.37 563.60 125.55 564.60 125.72C565.60 125.88 566.60 126.02 567.60 126.14C568.60 126.26 569.60 126.36 570.60 126.44C571.60 126.53 572.60 126.59 573.60 126.63C574.60 126.68 575.60 126.71 576.60 126.72C577.60 126.73 578.60 126.73 579.60 126.71C580.60 126.69 581.60 126.66 582.60 126.62C583.60 126.57 584.60 126.51 585.60 126.44C586.60 126.37 587.60 126.29 588.60 126.20C589.60 126.11 590.60 126.01 591.60 125.90C592.60 125.79 593.60 125.67 594.60 125.55C595.60 125.42 596.60 125.29 597.60 125.15C598.60 125.01 599.60 124.87 600.60 124.72C601.60 124.57 602.60 124.42 603.60 124.26C604.60 124.11 605.60 123.95 606.60 123.79C607.60 123.63 608.60 123.47 609.60 123.31C610.60 123.14 611.60 122.98 612.60 122.82C613.60 122.66 614.60 122.50 615.60 122.35C616.60 122.19 617.60 122.04 618.60 121.89C619.60 121.74 620.60 121.60 621.60 121.46C622.60 121.32 623.60 121.18 624.60 121.05C625.60 120.92 626.60 120.79 627.60 120.67C628.60 120.54 629.60 120.42 630.60 120.30C631.60 120.19 632.60 120.07 633.60 119.96C634.60 119.85 635.60 119.74 636.60 119.64C637.60 119.53 638.60 119.43 639.60 119.33C640.60 119.23 641.60 119.13 642.60 119.04C643.60 118.94 644.60 118.85 645.60 118.76C646.60 118.67 647.60 118.58 648.60 118.49C649.60 118.41 650.60 118.32 651.60 118.24C652.60 118.16 653.60 118.08 654.60 118.00C655.60 117.92 656.60 117.84 657.60 117.76C658.60 117.68 659.60 117.60 660.60 117.53C661.60 117.45 662.60 117.38 663.60 117.30C664.60 117.23 665.60 117.15 666.60 117.08C667.60 117.01 668.60 116.93 669.60 116.86C670.60 116.79 671.60 116.71 672.60 116.64C673.60 116.57 674.60 116.49 675.60 116.42C676.60 116.35 677.60 116.27 678.60 116.20C679.60 116.12 680.60 116.05 681.60 115.97C682.17 115.93 682.73 115.88 683.30 115.84"/>
</g>
<!-- axes -->
<rect x="87.25" y="0.2" width="595.95" height="315.35" fill="none" stroke="#000" stroke-width="1.35"/>
<g stroke="#000" stroke-width="1.2" fill="none">
<path d="M81.9 34.5H87.25M81.9 75.3H87.25M81.9 116.1H87.25M81.9 156.9H87.25M81.9 197.7H87.25M81.9 238.5H87.25M81.9 279.3H87.25"/>
<path d="M87.25 315.55V321M236.2 315.55V321M385.2 315.55V321M534.2 315.55V321M683.2 315.55V321"/>
</g>
<!-- y tick labels -->
<g font-size="24.5" text-anchor="end">
<text x="77.6" y="42">0.5</text>
<text x="81.4" y="123.6">0.0</text>
<text x="77.8" y="205.2">-0.5</text>
<text x="77.8" y="286.8">-1.0</text>
</g>
<!-- x tick labels -->
<g font-size="24.5">
<text x="71.3" y="341.9">-500</text>
<text x="208.9" y="341.9">-250</text>
<text x="370.8" y="341.9">0.0</text>
<text x="514.8" y="341.9">250</text>
<text x="649.6" y="341.9">500</text>
</g>
<text x="300.5" y="370.2" font-size="29.65">Energy</text>
<text x="392.7" y="370.2" font-size="30">(meV)</text>
<!-- legend -->
<g fill="none" stroke-width="2.8">
<path stroke="#1f77b4" d="M191.5 245.4H221.4"/>
<path stroke="#1f77b4" d="M193 250.5H202.7M207 250.5H217.6"/>
<path stroke="#ff7f0e" d="M191.5 285.1H221.4"/>
<path stroke="#ff7f0e" d="M193 290H202.7M207 290H217.6"/>
</g>
<g transform="translate(243.3,239.5)">
<path d="M8.1 0H9.9L1.85 15.9H0.05Z" fill="#000" stroke="none"/>
<path d="M0.15 3.7C0.3 1.8 1.4 0.45 2.7 0.45C3.8 0.45 4.2 1.8 4.65 4.2L6 11.4C6.4 13.4 7.2 14.5 8.5 14.5C9.6 14.5 10.4 13.8 10.8 12.6" fill="none" stroke="#000" stroke-width="1.15" stroke-linecap="round"/>
</g>
<g transform="translate(288.4,239.5)">
<path d="M8.1 0H9.9L1.85 15.9H0.05Z" fill="#000" stroke="none"/>
<path d="M0.15 3.7C0.3 1.8 1.4 0.45 2.7 0.45C3.8 0.45 4.2 1.8 4.65 4.2L6 11.4C6.4 13.4 7.2 14.5 8.5 14.5C9.6 14.5 10.4 13.8 10.8 12.6" fill="none" stroke="#000" stroke-width="1.15" stroke-linecap="round"/>
</g>
<g transform="translate(243.3,279.2)">
<path d="M8.1 0H9.9L1.85 15.9H0.05Z" fill="#000" stroke="none"/>
<path d="M0.15 3.7C0.3 1.8 1.4 0.45 2.7 0.45C3.8 0.45 4.2 1.8 4.65 4.2L6 11.4C6.4 13.4 7.2 14.5 8.5 14.5C9.6 14.5 10.4 13.8 10.8 12.6" fill="none" stroke="#000" stroke-width="1.15" stroke-linecap="round"/>
</g>
<g font-size="13.5">
<text x="254.4" y="258.4">xx</text>
<text x="299.2" y="258.4">yy</text>
<text x="254.4" y="298.1">zz</text>
</g>
<text x="267.8" y="250.3" font-size="24">=</text>
<!-- y label -->
<g transform="translate(0,0)">
<g transform="translate(7.9,224.1) rotate(-90) scale(1.27)">
<path d="M7.95 0H10L1.95 15.9H-0.1Z" fill="#000" stroke="none"/>
<path d="M0.15 3.7C0.3 1.8 1.4 0.45 2.7 0.45C3.8 0.45 4.2 1.8 4.65 4.2L6 11.4C6.4 13.4 7.2 14.5 8.5 14.5C9.6 14.5 10.4 13.8 10.8 12.6" fill="none" stroke="#000" stroke-width="1.15" stroke-linecap="round"/>
</g>
<text transform="translate(26.7,193.8) rotate(-90)" font-size="22">10</text>
<text transform="translate(19.2,170.4) rotate(-90)" font-size="14.5">-8</text>
<text transform="translate(27,157.4) rotate(-90)" font-size="21.5">ħ</text>
<text transform="translate(13.9,144.2) rotate(-90)" font-size="21">cm</text>
<text transform="translate(37.5,139) rotate(-90)" font-size="22">V</text>
<path d="M19.6 113.1V145.4" stroke="#000" stroke-width="1.8" fill="none"/>
<!-- parens -->
<path d="M-1.7 190.2C8 205.2 27 205.2 36.8 190.2C27 199.5 8 199.5 -1.7 190.2Z" fill="#000"/>
<path d="M-1.7 116.9C8 102.3 27 102.3 36.8 116.9C27 107.7 8 107.7 -1.7 116.9Z" fill="#000"/>
</g>
</g>
</svg>
</body>
</html>
